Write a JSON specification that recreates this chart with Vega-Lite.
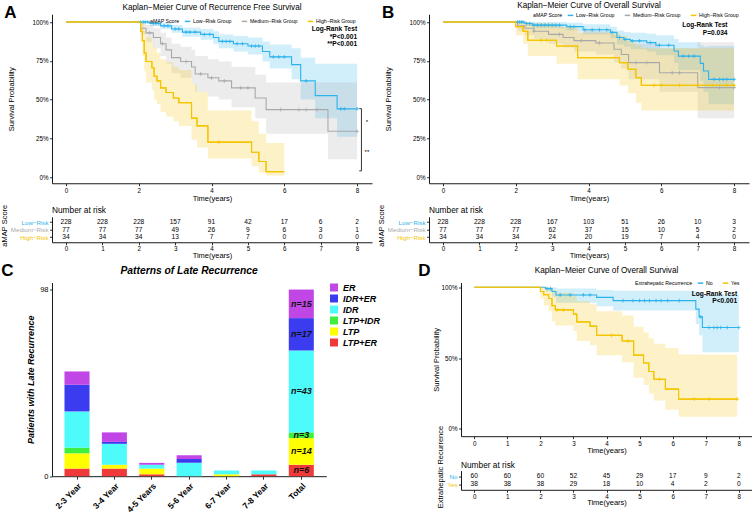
{
"$schema": "https://vega.github.io/schema/vega-lite/v6.json",
"padding": {"left": 0, "top": 0.25, "right": 0, "bottom": 0},
"config": {
 "font": "Liberation Sans",
 "view": {"stroke": null},
 "axis": {"grid": false, "domainColor": "#000", "domainWidth": 0.9, "tickColor": "#000", "tickWidth": 0.8, "tickSize": 2.5, "labelColor": "#000", "labelFontSize": 6.3, "titleFontSize": 7.5, "titleFontWeight": "normal", "titleColor": "#000", "labelPadding": 1.5, "titlePadding": 2, "labelFlush": false, "labelOverlap": false},
 "title": {"fontSize": 8.2, "fontWeight": "normal", "color": "#000", "offset": 2},
 "legend": {"labelFontSize": 5.2, "titleFontSize": 5.2, "titleFontWeight": "normal", "labelColor": "#000", "titleColor": "#000"}
},
"datasets": {
 "kmA": [
  {"g":"Low−Risk Group","t":0,"s":1,"lo":1,"hi":1},
  {"g":"Low−Risk Group","t":2.3,"s":0.99,"lo":0.975,"hi":1},
  {"g":"Low−Risk Group","t":2.6,"s":0.975,"lo":0.955,"hi":0.995},
  {"g":"Low−Risk Group","t":2.9,"s":0.955,"lo":0.93,"hi":0.98},
  {"g":"Low−Risk Group","t":3.2,"s":0.935,"lo":0.905,"hi":0.965},
  {"g":"Low−Risk Group","t":3.7,"s":0.92,"lo":0.885,"hi":0.955},
  {"g":"Low−Risk Group","t":4.05,"s":0.9,"lo":0.86,"hi":0.94},
  {"g":"Low−Risk Group","t":4.2,"s":0.875,"lo":0.83,"hi":0.92},
  {"g":"Low−Risk Group","t":4.6,"s":0.86,"lo":0.81,"hi":0.91},
  {"g":"Low−Risk Group","t":5.0,"s":0.845,"lo":0.79,"hi":0.9},
  {"g":"Low−Risk Group","t":5.4,"s":0.81,"lo":0.745,"hi":0.875},
  {"g":"Low−Risk Group","t":5.6,"s":0.775,"lo":0.7,"hi":0.855},
  {"g":"Low−Risk Group","t":6.2,"s":0.725,"lo":0.63,"hi":0.83},
  {"g":"Low−Risk Group","t":6.45,"s":0.62,"lo":0.5,"hi":0.77},
  {"g":"Low−Risk Group","t":6.85,"s":0.525,"lo":0.38,"hi":0.73},
  {"g":"Low−Risk Group","t":7.45,"s":0.44,"lo":0.26,"hi":0.73},
  {"g":"Low−Risk Group","t":8.0,"s":0.44,"lo":0.26,"hi":0.73},
  {"g":"Medium−Risk Group","t":0,"s":1,"lo":1,"hi":1},
  {"g":"Medium−Risk Group","t":2.05,"s":0.96,"lo":0.92,"hi":1},
  {"g":"Medium−Risk Group","t":2.2,"s":0.93,"lo":0.87,"hi":0.98},
  {"g":"Medium−Risk Group","t":2.4,"s":0.9,"lo":0.83,"hi":0.96},
  {"g":"Medium−Risk Group","t":2.6,"s":0.86,"lo":0.78,"hi":0.93},
  {"g":"Medium−Risk Group","t":2.75,"s":0.82,"lo":0.73,"hi":0.9},
  {"g":"Medium−Risk Group","t":2.9,"s":0.77,"lo":0.67,"hi":0.86},
  {"g":"Medium−Risk Group","t":3.15,"s":0.745,"lo":0.64,"hi":0.84},
  {"g":"Medium−Risk Group","t":3.45,"s":0.71,"lo":0.6,"hi":0.82},
  {"g":"Medium−Risk Group","t":3.55,"s":0.665,"lo":0.55,"hi":0.78},
  {"g":"Medium−Risk Group","t":3.9,"s":0.64,"lo":0.52,"hi":0.76},
  {"g":"Medium−Risk Group","t":4.2,"s":0.62,"lo":0.5,"hi":0.745},
  {"g":"Medium−Risk Group","t":4.55,"s":0.575,"lo":0.45,"hi":0.71},
  {"g":"Medium−Risk Group","t":5.2,"s":0.51,"lo":0.38,"hi":0.66},
  {"g":"Medium−Risk Group","t":5.5,"s":0.435,"lo":0.28,"hi":0.61},
  {"g":"Medium−Risk Group","t":7.2,"s":0.295,"lo":0.115,"hi":0.61},
  {"g":"Medium−Risk Group","t":8.0,"s":0.295,"lo":0.115,"hi":0.61},
  {"g":"High−Risk Group","t":0,"s":1,"lo":1,"hi":1},
  {"g":"High−Risk Group","t":2.05,"s":0.94,"lo":0.87,"hi":1},
  {"g":"High−Risk Group","t":2.1,"s":0.88,"lo":0.78,"hi":0.99},
  {"g":"High−Risk Group","t":2.15,"s":0.8,"lo":0.68,"hi":0.94},
  {"g":"High−Risk Group","t":2.2,"s":0.745,"lo":0.61,"hi":0.9},
  {"g":"High−Risk Group","t":2.36,"s":0.705,"lo":0.56,"hi":0.87},
  {"g":"High−Risk Group","t":2.42,"s":0.65,"lo":0.5,"hi":0.83},
  {"g":"High−Risk Group","t":2.5,"s":0.62,"lo":0.47,"hi":0.8},
  {"g":"High−Risk Group","t":2.6,"s":0.575,"lo":0.42,"hi":0.76},
  {"g":"High−Risk Group","t":2.75,"s":0.545,"lo":0.39,"hi":0.74},
  {"g":"High−Risk Group","t":2.95,"s":0.51,"lo":0.36,"hi":0.71},
  {"g":"High−Risk Group","t":3.1,"s":0.48,"lo":0.33,"hi":0.69},
  {"g":"High−Risk Group","t":3.45,"s":0.38,"lo":0.24,"hi":0.6},
  {"g":"High−Risk Group","t":3.6,"s":0.33,"lo":0.19,"hi":0.55},
  {"g":"High−Risk Group","t":3.9,"s":0.225,"lo":0.12,"hi":0.43},
  {"g":"High−Risk Group","t":5.1,"s":0.16,"lo":0.07,"hi":0.36},
  {"g":"High−Risk Group","t":5.3,"s":0.1,"lo":0.03,"hi":0.28},
  {"g":"High−Risk Group","t":5.5,"s":0.035,"lo":0.01,"hi":0.22},
  {"g":"High−Risk Group","t":6.0,"s":0.035,"lo":0.01,"hi":0.22}
 ],
 "censA": [
  {"g":"Low−Risk Group","t":2.05,"s":1},{"g":"Low−Risk Group","t":2.12,"s":1},{"g":"Low−Risk Group","t":2.18,"s":1},{"g":"Low−Risk Group","t":2.25,"s":1},
  {"g":"Low−Risk Group","t":2.4,"s":0.99},{"g":"Low−Risk Group","t":2.47,"s":0.99},{"g":"Low−Risk Group","t":2.55,"s":0.99},
  {"g":"Low−Risk Group","t":2.7,"s":0.975},{"g":"Low−Risk Group","t":2.8,"s":0.975},{"g":"Low−Risk Group","t":3.0,"s":0.955},{"g":"Low−Risk Group","t":3.1,"s":0.955},
  {"g":"Low−Risk Group","t":3.3,"s":0.935},{"g":"Low−Risk Group","t":3.4,"s":0.935},{"g":"Low−Risk Group","t":3.55,"s":0.935},{"g":"Low−Risk Group","t":3.8,"s":0.92},{"g":"Low−Risk Group","t":3.95,"s":0.92},
  {"g":"Low−Risk Group","t":4.3,"s":0.875},{"g":"Low−Risk Group","t":4.4,"s":0.875},{"g":"Low−Risk Group","t":4.5,"s":0.875},{"g":"Low−Risk Group","t":4.7,"s":0.86},{"g":"Low−Risk Group","t":4.85,"s":0.86},
  {"g":"Low−Risk Group","t":5.1,"s":0.845},{"g":"Low−Risk Group","t":5.2,"s":0.845},{"g":"Low−Risk Group","t":5.3,"s":0.845},{"g":"Low−Risk Group","t":5.7,"s":0.775},{"g":"Low−Risk Group","t":5.85,"s":0.775},{"g":"Low−Risk Group","t":6.0,"s":0.775},
  {"g":"Low−Risk Group","t":6.6,"s":0.62},{"g":"Low−Risk Group","t":7.55,"s":0.44},{"g":"Low−Risk Group","t":7.65,"s":0.44},{"g":"Low−Risk Group","t":8.0,"s":0.44},
  {"g":"Medium−Risk Group","t":2.3,"s":0.93},{"g":"Medium−Risk Group","t":2.65,"s":0.86},{"g":"Medium−Risk Group","t":3.3,"s":0.745},{"g":"Medium−Risk Group","t":3.7,"s":0.665},{"g":"Medium−Risk Group","t":4.0,"s":0.64},{"g":"Medium−Risk Group","t":4.35,"s":0.62},
  {"g":"Medium−Risk Group","t":4.8,"s":0.575},{"g":"Medium−Risk Group","t":5.0,"s":0.575},{"g":"Medium−Risk Group","t":5.9,"s":0.435},{"g":"Medium−Risk Group","t":6.4,"s":0.435},{"g":"Medium−Risk Group","t":6.6,"s":0.435},{"g":"Medium−Risk Group","t":6.9,"s":0.435},{"g":"Medium−Risk Group","t":8.0,"s":0.295},
  {"g":"High−Risk Group","t":4.2,"s":0.225}
 ],
 "riskA": [
  {"g":"Low−Risk","t":0,"n":228},{"g":"Low−Risk","t":1,"n":228},{"g":"Low−Risk","t":2,"n":228},{"g":"Low−Risk","t":3,"n":157},{"g":"Low−Risk","t":4,"n":91},{"g":"Low−Risk","t":5,"n":42},{"g":"Low−Risk","t":6,"n":17},{"g":"Low−Risk","t":7,"n":6},{"g":"Low−Risk","t":8,"n":2},
  {"g":"Medium−Risk","t":0,"n":77},{"g":"Medium−Risk","t":1,"n":77},{"g":"Medium−Risk","t":2,"n":77},{"g":"Medium−Risk","t":3,"n":49},{"g":"Medium−Risk","t":4,"n":26},{"g":"Medium−Risk","t":5,"n":9},{"g":"Medium−Risk","t":6,"n":6},{"g":"Medium−Risk","t":7,"n":3},{"g":"Medium−Risk","t":8,"n":1},
  {"g":"High−Risk","t":0,"n":34},{"g":"High−Risk","t":1,"n":34},{"g":"High−Risk","t":2,"n":34},{"g":"High−Risk","t":3,"n":13},{"g":"High−Risk","t":4,"n":7},{"g":"High−Risk","t":5,"n":7},{"g":"High−Risk","t":6,"n":0},{"g":"High−Risk","t":7,"n":0},{"g":"High−Risk","t":8,"n":0}
 ],
 "kmB": [
  {"g":"Low−Risk Group","t":0,"s":1,"lo":1,"hi":1},
  {"g":"Low−Risk Group","t":2.25,"s":0.99,"lo":0.975,"hi":1},
  {"g":"Low−Risk Group","t":2.45,"s":0.98,"lo":0.96,"hi":1},
  {"g":"Low−Risk Group","t":3.4,"s":0.97,"lo":0.945,"hi":0.995},
  {"g":"Low−Risk Group","t":3.85,"s":0.95,"lo":0.92,"hi":0.985},
  {"g":"Low−Risk Group","t":4.6,"s":0.933,"lo":0.895,"hi":0.97},
  {"g":"Low−Risk Group","t":4.78,"s":0.9,"lo":0.855,"hi":0.945},
  {"g":"Low−Risk Group","t":4.97,"s":0.888,"lo":0.84,"hi":0.935},
  {"g":"Low−Risk Group","t":5.15,"s":0.878,"lo":0.825,"hi":0.93},
  {"g":"Low−Risk Group","t":5.6,"s":0.867,"lo":0.81,"hi":0.925},
  {"g":"Low−Risk Group","t":5.85,"s":0.85,"lo":0.785,"hi":0.915},
  {"g":"Low−Risk Group","t":6.35,"s":0.813,"lo":0.735,"hi":0.89},
  {"g":"Low−Risk Group","t":6.47,"s":0.78,"lo":0.69,"hi":0.87},
  {"g":"Low−Risk Group","t":7.07,"s":0.733,"lo":0.62,"hi":0.85},
  {"g":"Low−Risk Group","t":7.16,"s":0.684,"lo":0.55,"hi":0.84},
  {"g":"Low−Risk Group","t":7.3,"s":0.63,"lo":0.47,"hi":0.845},
  {"g":"Low−Risk Group","t":8.0,"s":0.63,"lo":0.47,"hi":0.845},
  {"g":"Medium−Risk Group","t":0,"s":1,"lo":1,"hi":1},
  {"g":"Medium−Risk Group","t":2.05,"s":0.975,"lo":0.94,"hi":1},
  {"g":"Medium−Risk Group","t":2.25,"s":0.96,"lo":0.915,"hi":1},
  {"g":"Medium−Risk Group","t":2.5,"s":0.94,"lo":0.89,"hi":0.99},
  {"g":"Medium−Risk Group","t":2.9,"s":0.92,"lo":0.86,"hi":0.98},
  {"g":"Medium−Risk Group","t":3.3,"s":0.9,"lo":0.835,"hi":0.965},
  {"g":"Medium−Risk Group","t":3.6,"s":0.88,"lo":0.81,"hi":0.95},
  {"g":"Medium−Risk Group","t":4.2,"s":0.865,"lo":0.79,"hi":0.94},
  {"g":"Medium−Risk Group","t":4.7,"s":0.824,"lo":0.74,"hi":0.915},
  {"g":"Medium−Risk Group","t":4.9,"s":0.79,"lo":0.7,"hi":0.89},
  {"g":"Medium−Risk Group","t":5.1,"s":0.738,"lo":0.63,"hi":0.86},
  {"g":"Medium−Risk Group","t":5.95,"s":0.673,"lo":0.55,"hi":0.83},
  {"g":"Medium−Risk Group","t":7.0,"s":0.577,"lo":0.38,"hi":0.87},
  {"g":"Medium−Risk Group","t":8.0,"s":0.577,"lo":0.38,"hi":0.87},
  {"g":"High−Risk Group","t":0,"s":1,"lo":1,"hi":1},
  {"g":"High−Risk Group","t":2.0,"s":0.97,"lo":0.915,"hi":1},
  {"g":"High−Risk Group","t":2.2,"s":0.94,"lo":0.86,"hi":1},
  {"g":"High−Risk Group","t":2.33,"s":0.882,"lo":0.78,"hi":0.99},
  {"g":"High−Risk Group","t":3.12,"s":0.845,"lo":0.73,"hi":0.97},
  {"g":"High−Risk Group","t":3.7,"s":0.77,"lo":0.63,"hi":0.93},
  {"g":"High−Risk Group","t":4.85,"s":0.738,"lo":0.59,"hi":0.91},
  {"g":"High−Risk Group","t":5.08,"s":0.695,"lo":0.54,"hi":0.88},
  {"g":"High−Risk Group","t":5.3,"s":0.641,"lo":0.48,"hi":0.85},
  {"g":"High−Risk Group","t":5.45,"s":0.592,"lo":0.43,"hi":0.83},
  {"g":"High−Risk Group","t":8.0,"s":0.592,"lo":0.43,"hi":0.83}
 ],
 "censB": [
  {"g":"Low−Risk Group","t":2.05,"s":1},{"g":"Low−Risk Group","t":2.1,"s":1},{"g":"Low−Risk Group","t":2.15,"s":1},{"g":"Low−Risk Group","t":2.2,"s":1},{"g":"Low−Risk Group","t":2.3,"s":0.99},{"g":"Low−Risk Group","t":2.38,"s":0.99},
  {"g":"Low−Risk Group","t":2.5,"s":0.98},{"g":"Low−Risk Group","t":2.6,"s":0.98},{"g":"Low−Risk Group","t":2.7,"s":0.98},{"g":"Low−Risk Group","t":2.8,"s":0.98},{"g":"Low−Risk Group","t":2.9,"s":0.98},{"g":"Low−Risk Group","t":3.0,"s":0.98},{"g":"Low−Risk Group","t":3.1,"s":0.98},{"g":"Low−Risk Group","t":3.2,"s":0.98},
  {"g":"Low−Risk Group","t":3.5,"s":0.97},{"g":"Low−Risk Group","t":3.6,"s":0.97},{"g":"Low−Risk Group","t":3.9,"s":0.95},{"g":"Low−Risk Group","t":4.1,"s":0.95},{"g":"Low−Risk Group","t":4.3,"s":0.95},{"g":"Low−Risk Group","t":4.5,"s":0.95},{"g":"Low−Risk Group","t":4.65,"s":0.933},
  {"g":"Low−Risk Group","t":4.85,"s":0.9},{"g":"Low−Risk Group","t":5.0,"s":0.888},{"g":"Low−Risk Group","t":5.2,"s":0.878},{"g":"Low−Risk Group","t":5.4,"s":0.878},{"g":"Low−Risk Group","t":5.7,"s":0.867},{"g":"Low−Risk Group","t":5.95,"s":0.85},{"g":"Low−Risk Group","t":6.2,"s":0.85},
  {"g":"Low−Risk Group","t":6.6,"s":0.78},{"g":"Low−Risk Group","t":6.75,"s":0.78},{"g":"Low−Risk Group","t":6.9,"s":0.78},{"g":"Low−Risk Group","t":7.45,"s":0.63},{"g":"Low−Risk Group","t":7.6,"s":0.63},{"g":"Low−Risk Group","t":7.7,"s":0.63},{"g":"Low−Risk Group","t":7.8,"s":0.63},{"g":"Low−Risk Group","t":8.0,"s":0.63},
  {"g":"Medium−Risk Group","t":2.5,"s":0.94},{"g":"Medium−Risk Group","t":3.2,"s":0.92},{"g":"Medium−Risk Group","t":3.8,"s":0.88},{"g":"Medium−Risk Group","t":4.3,"s":0.865},{"g":"Medium−Risk Group","t":5.3,"s":0.738},{"g":"Medium−Risk Group","t":5.6,"s":0.738},{"g":"Medium−Risk Group","t":6.3,"s":0.673},{"g":"Medium−Risk Group","t":6.5,"s":0.673},{"g":"Medium−Risk Group","t":7.6,"s":0.577},{"g":"Medium−Risk Group","t":8.0,"s":0.577},
  {"g":"High−Risk Group","t":2.7,"s":0.882},{"g":"High−Risk Group","t":2.85,"s":0.882},{"g":"High−Risk Group","t":5.8,"s":0.592},{"g":"High−Risk Group","t":6.0,"s":0.592},{"g":"High−Risk Group","t":6.5,"s":0.592},{"g":"High−Risk Group","t":7.0,"s":0.592},{"g":"High−Risk Group","t":7.4,"s":0.592},{"g":"High−Risk Group","t":7.8,"s":0.592},{"g":"High−Risk Group","t":8.0,"s":0.592}
 ],
 "riskB": [
  {"g":"Low−Risk","t":0,"n":228},{"g":"Low−Risk","t":1,"n":228},{"g":"Low−Risk","t":2,"n":228},{"g":"Low−Risk","t":3,"n":167},{"g":"Low−Risk","t":4,"n":103},{"g":"Low−Risk","t":5,"n":51},{"g":"Low−Risk","t":6,"n":26},{"g":"Low−Risk","t":7,"n":10},{"g":"Low−Risk","t":8,"n":3},
  {"g":"Medium−Risk","t":0,"n":77},{"g":"Medium−Risk","t":1,"n":77},{"g":"Medium−Risk","t":2,"n":77},{"g":"Medium−Risk","t":3,"n":62},{"g":"Medium−Risk","t":4,"n":37},{"g":"Medium−Risk","t":5,"n":15},{"g":"Medium−Risk","t":6,"n":10},{"g":"Medium−Risk","t":7,"n":5},{"g":"Medium−Risk","t":8,"n":2},
  {"g":"High−Risk","t":0,"n":34},{"g":"High−Risk","t":1,"n":34},{"g":"High−Risk","t":2,"n":34},{"g":"High−Risk","t":3,"n":24},{"g":"High−Risk","t":4,"n":20},{"g":"High−Risk","t":5,"n":19},{"g":"High−Risk","t":6,"n":7},{"g":"High−Risk","t":7,"n":4},{"g":"High−Risk","t":8,"n":0}
 ],
 "kmD": [
  {"g":"No","t":0,"s":1,"lo":1,"hi":1},
  {"g":"No","t":2.15,"s":0.99,"lo":0.97,"hi":1},
  {"g":"No","t":2.35,"s":0.97,"lo":0.93,"hi":1},
  {"g":"No","t":2.47,"s":0.945,"lo":0.89,"hi":0.99},
  {"g":"No","t":3.7,"s":0.928,"lo":0.865,"hi":0.98},
  {"g":"No","t":4.2,"s":0.905,"lo":0.835,"hi":0.975},
  {"g":"No","t":6.7,"s":0.845,"lo":0.74,"hi":0.97},
  {"g":"No","t":6.8,"s":0.79,"lo":0.66,"hi":0.96},
  {"g":"No","t":6.9,"s":0.715,"lo":0.54,"hi":0.95},
  {"g":"No","t":8.0,"s":0.715,"lo":0.54,"hi":0.95},
  {"g":"Yes","t":0,"s":1,"lo":1,"hi":1},
  {"g":"Yes","t":2.0,"s":0.97,"lo":0.92,"hi":1},
  {"g":"Yes","t":2.1,"s":0.947,"lo":0.87,"hi":1},
  {"g":"Yes","t":2.25,"s":0.92,"lo":0.83,"hi":1},
  {"g":"Yes","t":2.35,"s":0.87,"lo":0.76,"hi":0.98},
  {"g":"Yes","t":2.45,"s":0.84,"lo":0.73,"hi":0.96},
  {"g":"Yes","t":3.0,"s":0.81,"lo":0.69,"hi":0.94},
  {"g":"Yes","t":3.1,"s":0.755,"lo":0.62,"hi":0.9},
  {"g":"Yes","t":3.5,"s":0.725,"lo":0.59,"hi":0.88},
  {"g":"Yes","t":3.7,"s":0.66,"lo":0.52,"hi":0.83},
  {"g":"Yes","t":4.47,"s":0.62,"lo":0.47,"hi":0.8},
  {"g":"Yes","t":4.82,"s":0.52,"lo":0.36,"hi":0.72},
  {"g":"Yes","t":5.12,"s":0.465,"lo":0.31,"hi":0.68},
  {"g":"Yes","t":5.28,"s":0.405,"lo":0.25,"hi":0.64},
  {"g":"Yes","t":5.43,"s":0.35,"lo":0.2,"hi":0.6},
  {"g":"Yes","t":5.78,"s":0.28,"lo":0.135,"hi":0.57},
  {"g":"Yes","t":6.18,"s":0.21,"lo":0.085,"hi":0.525},
  {"g":"Yes","t":7.95,"s":0.21,"lo":0.085,"hi":0.525}
 ],
 "censD": [
  {"g":"No","t":2.2,"s":0.99},{"g":"No","t":2.3,"s":0.99},{"g":"No","t":2.6,"s":0.945},{"g":"No","t":2.9,"s":0.945},{"g":"No","t":3.3,"s":0.945},{"g":"No","t":3.5,"s":0.945},
  {"g":"No","t":4.5,"s":0.905},{"g":"No","t":4.8,"s":0.905},{"g":"No","t":5.0,"s":0.905},{"g":"No","t":5.15,"s":0.905},{"g":"No","t":5.3,"s":0.905},{"g":"No","t":5.5,"s":0.905},{"g":"No","t":5.65,"s":0.905},{"g":"No","t":5.85,"s":0.905},{"g":"No","t":6.2,"s":0.905},
  {"g":"No","t":6.85,"s":0.79},{"g":"No","t":7.1,"s":0.715},{"g":"No","t":7.25,"s":0.715},{"g":"No","t":7.35,"s":0.715},{"g":"No","t":7.45,"s":0.715},{"g":"No","t":7.65,"s":0.715},{"g":"No","t":8.0,"s":0.715},
  {"g":"Yes","t":2.5,"s":0.84},{"g":"Yes","t":2.7,"s":0.84},{"g":"Yes","t":4.15,"s":0.66},{"g":"Yes","t":4.65,"s":0.62},{"g":"Yes","t":5.6,"s":0.35},{"g":"Yes","t":6.65,"s":0.21},{"g":"Yes","t":7.1,"s":0.21},{"g":"Yes","t":7.95,"s":0.21}
 ],
 "riskD": [
  {"g":"No","t":0,"n":60},{"g":"No","t":1,"n":60},{"g":"No","t":2,"n":60},{"g":"No","t":3,"n":52},{"g":"No","t":4,"n":45},{"g":"No","t":5,"n":29},{"g":"No","t":6,"n":17},{"g":"No","t":7,"n":9},{"g":"No","t":8,"n":2},
  {"g":"Yes","t":0,"n":38},{"g":"Yes","t":1,"n":38},{"g":"Yes","t":2,"n":38},{"g":"Yes","t":3,"n":29},{"g":"Yes","t":4,"n":18},{"g":"Yes","t":5,"n":10},{"g":"Yes","t":6,"n":4},{"g":"Yes","t":7,"n":2},{"g":"Yes","t":8,"n":0}
 ],
 "pat": [
  {"period":"2-3 Year","pattern":"LTP+ER","count":4,"rank":1},{"period":"2-3 Year","pattern":"LTP","count":8,"rank":2},{"period":"2-3 Year","pattern":"LTP+IDR","count":3,"rank":3},{"period":"2-3 Year","pattern":"IDR","count":19,"rank":4},{"period":"2-3 Year","pattern":"IDR+ER","count":14,"rank":5},{"period":"2-3 Year","pattern":"ER","count":7,"rank":6},
  {"period":"3-4 Year","pattern":"LTP+ER","count":4,"rank":1},{"period":"3-4 Year","pattern":"LTP","count":2,"rank":2},{"period":"3-4 Year","pattern":"IDR","count":11,"rank":4},{"period":"3-4 Year","pattern":"IDR+ER","count":1,"rank":5},{"period":"3-4 Year","pattern":"ER","count":5,"rank":6},
  {"period":"4-5 Years","pattern":"LTP+ER","count":1,"rank":1},{"period":"4-5 Years","pattern":"LTP","count":3,"rank":2},{"period":"4-5 Years","pattern":"IDR","count":2,"rank":4},{"period":"4-5 Years","pattern":"ER","count":1,"rank":6},
  {"period":"5-6 Year","pattern":"IDR","count":7,"rank":4},{"period":"5-6 Year","pattern":"IDR+ER","count":2,"rank":5},{"period":"5-6 Year","pattern":"ER","count":2,"rank":6},
  {"period":"6-7 Year","pattern":"LTP","count":1,"rank":2},{"period":"6-7 Year","pattern":"IDR","count":2,"rank":4},
  {"period":"7-8 Year","pattern":"LTP+ER","count":1,"rank":1},{"period":"7-8 Year","pattern":"IDR","count":2,"rank":4},
  {"period":"Total","pattern":"LTP+ER","count":6,"rank":1},{"period":"Total","pattern":"LTP","count":14,"rank":2},{"period":"Total","pattern":"LTP+IDR","count":3,"rank":3},{"period":"Total","pattern":"IDR","count":43,"rank":4},{"period":"Total","pattern":"IDR+ER","count":17,"rank":5},{"period":"Total","pattern":"ER","count":15,"rank":6}
 ]
},
"resolve": {"scale": {"color": "independent", "fill": "independent", "x": "independent", "y": "independent"}, "legend": {"color": "independent", "fill": "independent"}},
"concat": [
 {"resolve": {"scale": {"color": "independent", "fill": "independent", "x": "independent", "y": "independent"}, "legend": {"color": "independent", "fill": "independent"}},
  "concat": [
  {"resolve": {"scale": {"color": "independent", "fill": "independent", "x": "independent", "y": "independent"}, "legend": {"color": "independent", "fill": "independent"}},
   "bounds": "flush",
   "concat": [
   {"width": 320, "height": 169,
    "title": {"text": "Kaplan−Meier Curve of Recurrence Free Survival", "frame": "group", "offset": -9},
    "layer": [
     {"data": {"name": "kmA"}, "mark": {"type": "area", "interpolate": "step-after", "fillOpacity": 0.22},
      "encoding": {"x": {"field": "t", "type": "quantitative", "scale": {"domain": [-0.385, 8.41], "nice": false, "zero": false}, "axis": {"values": [0,1,2,3,4,5,6,7,8], "format": "d", "title": "Time(years)", "labelPadding": 1.5, "titlePadding": 0.5}},
       "y": {"field": "lo", "type": "quantitative", "scale": {"domain": [-0.04, 1.05], "nice": false, "zero": false}, "axis": {"values": [0,0.25,0.5,0.75,1], "format": ".0%", "title": "Survival Probability", "titlePadding": 16}},
       "y2": {"field": "hi"},
       "color": {"field": "g", "type": "nominal", "scale": {"domain": ["Low−Risk Group","Medium−Risk Group","High−Risk Group"], "range": ["#2DB3EB","#A9A9A9","#F4C400"]},
        "legend": {"orient": "none", "legendX": 98, "legendY": 3.5, "direction": "horizontal", "title": "aMAP Score", "titleOrient": "left", "symbolType": "stroke", "symbolStrokeWidth": 1.5, "symbolSize": 30, "columnPadding": 6, "titlePadding": 4, "labelOffset": 2}}}},
     {"data": {"name": "kmA"}, "mark": {"type": "line", "interpolate": "step-after", "strokeWidth": 1.1},
      "encoding": {"x": {"field": "t", "type": "quantitative"}, "y": {"field": "s", "type": "quantitative", "title": "Survival Probability"}, "color": {"field": "g", "type": "nominal"}}},
     {"data": {"name": "censA"}, "mark": {"type": "point", "shape": "M-1,0H1M0,-1V1", "filled": false, "size": 14, "strokeWidth": 0.8, "opacity": 1},
      "encoding": {"x": {"field": "t", "type": "quantitative"}, "y": {"field": "s", "type": "quantitative", "title": "Survival Probability"}, "color": {"field": "g", "type": "nominal"}}},
     {"data": {"name": "kmA"}, "transform": [{"filter": "datum.g === 'High−Risk Group'"}], "mark": {"type": "line", "interpolate": "step-after", "strokeWidth": 1.1, "color": "#F4C400"},
      "encoding": {"x": {"field": "t", "type": "quantitative"}, "y": {"field": "s", "type": "quantitative", "title": "Survival Probability"}}},
     {"data": {"values": [{}]}, "mark": {"type": "text", "text": ["Log-Rank Test", "*P<0.001", "**P<0.001"], "align": "right", "baseline": "top", "fontWeight": "bold", "fontSize": 6.6, "lineHeight": 7.5},
      "encoding": {"x": {"datum": 8.0}, "y": {"datum": 0.974}}},
     {"data": {"values": [{}]}, "mark": {"type": "rule", "color": "#000", "strokeWidth": 0.8}, "encoding": {"x": {"datum": 8.12}, "y": {"datum": 0.441}, "y2": {"datum": 0.04}}},
     {"data": {"values": [{}]}, "mark": {"type": "rule", "color": "#000", "strokeWidth": 0.8}, "encoding": {"x": {"datum": 8.06}, "x2": {"datum": 8.12}, "y": {"datum": 0.441}}},
     {"data": {"values": [{}]}, "mark": {"type": "rule", "color": "#000", "strokeWidth": 0.8}, "encoding": {"x": {"datum": 8.06}, "x2": {"datum": 8.12}, "y": {"datum": 0.04}}},
     {"data": {"values": [{}]}, "mark": {"type": "text", "text": "*", "fontSize": 6, "align": "center"}, "encoding": {"x": {"datum": 8.27}, "y": {"datum": 0.357}}},
     {"data": {"values": [{}]}, "mark": {"type": "text", "text": "**", "fontSize": 6, "align": "center"}, "encoding": {"x": {"datum": 8.27}, "y": {"datum": 0.164}}},
     {"data": {"values": [{}]}, "mark": {"type": "text", "text": "A", "fontSize": 17, "fontWeight": "bold", "align": "center", "baseline": "alphabetic"}, "encoding": {"x": {"datum": -1.53}, "y": {"datum": 1.028}}}
    ]},
   {"width": 320, "height": 25.5,
    "data": {"name": "riskA"},
    "title": {"text": "Number at risk", "anchor": "start", "frame": "group", "fontSize": 8.3, "offset": -10.5},
    "mark": {"type": "text", "fontSize": 6.6, "color": "#000"},
    "encoding": {
     "x": {"field": "t", "type": "quantitative", "scale": {"domain": [-0.385, 8.41], "nice": false, "zero": false}, "axis": {"values": [0,1,2,3,4,5,6,7,8], "format": "d", "title": "Time(years)", "labelPadding": 1, "titlePadding": -0.7}},
     "y": {"field": "g", "type": "nominal", "sort": ["Low−Risk","Medium−Risk","High−Risk"], "scale": {"type": "point", "padding": 0.7}, "axis": {"title": "aMAP Score", "titleY": 8.5, "labelFontSize": 6.2, "titlePadding": 2, "labelColor": {"expr": "datum.value === 'Low−Risk' ? '#2DB3EB' : (datum.value === 'Medium−Risk' ? '#A9A9A9' : '#F4C400')"}}},
     "text": {"field": "n", "type": "quantitative"}
    }}
  ], "columns": 1, "spacing": 33.5},
  {"resolve": {"scale": {"color": "independent", "fill": "independent", "x": "independent", "y": "independent"}, "legend": {"color": "independent", "fill": "independent"}},
   "bounds": "flush",
   "concat": [
   {"width": 320, "height": 169,
    "title": {"text": "Kaplan−Meier Curve of Overall Survival", "frame": "group", "offset": -6.25},
    "layer": [
     {"data": {"name": "kmB"}, "mark": {"type": "area", "interpolate": "step-after", "fillOpacity": 0.22},
      "encoding": {"x": {"field": "t", "type": "quantitative", "scale": {"domain": [-0.385, 8.41], "nice": false, "zero": false}, "axis": {"values": [0,1,2,3,4,5,6,7,8], "format": "d", "title": "Time(years)", "labelPadding": 1.5, "titlePadding": 0.5}},
       "y": {"field": "lo", "type": "quantitative", "scale": {"domain": [-0.04, 1.05], "nice": false, "zero": false}, "axis": {"values": [0,0.25,0.5,0.75,1], "format": ".0%", "title": "Survival Probability", "titlePadding": 16}},
       "y2": {"field": "hi"},
       "color": {"field": "g", "type": "nominal", "scale": {"domain": ["Low−Risk Group","Medium−Risk Group","High−Risk Group"], "range": ["#2DB3EB","#A9A9A9","#F4C400"]},
        "legend": {"orient": "none", "legendX": 104, "legendY": -2.5, "direction": "horizontal", "title": "aMAP Score", "titleOrient": "left", "symbolType": "stroke", "symbolStrokeWidth": 1.5, "symbolSize": 30, "columnPadding": 6, "titlePadding": 4, "labelOffset": 2}}}},
     {"data": {"name": "kmB"}, "mark": {"type": "line", "interpolate": "step-after", "strokeWidth": 1.1},
      "encoding": {"x": {"field": "t", "type": "quantitative"}, "y": {"field": "s", "type": "quantitative", "title": "Survival Probability"}, "color": {"field": "g", "type": "nominal"}}},
     {"data": {"name": "censB"}, "mark": {"type": "point", "shape": "M-1,0H1M0,-1V1", "filled": false, "size": 14, "strokeWidth": 0.8, "opacity": 1},
      "encoding": {"x": {"field": "t", "type": "quantitative"}, "y": {"field": "s", "type": "quantitative", "title": "Survival Probability"}, "color": {"field": "g", "type": "nominal"}}},
     {"data": {"name": "kmB"}, "transform": [{"filter": "datum.g === 'High−Risk Group'"}], "mark": {"type": "line", "interpolate": "step-after", "strokeWidth": 1.1, "color": "#F4C400"},
      "encoding": {"x": {"field": "t", "type": "quantitative"}, "y": {"field": "s", "type": "quantitative", "title": "Survival Probability"}}},
     {"data": {"values": [{}]}, "mark": {"type": "text", "text": ["Log-Rank Test", "P=0.034"], "align": "right", "baseline": "top", "fontWeight": "bold", "fontSize": 6.6, "lineHeight": 7.5},
      "encoding": {"x": {"datum": 7.82}, "y": {"datum": 1.0}}},
     {"data": {"values": [{}]}, "mark": {"type": "text", "text": "B", "fontSize": 17, "fontWeight": "bold", "align": "center", "baseline": "alphabetic"}, "encoding": {"x": {"datum": -1.51}, "y": {"datum": 1.028}}}
    ]},
   {"width": 320, "height": 25.5,
    "data": {"name": "riskB"},
    "title": {"text": "Number at risk", "anchor": "start", "frame": "group", "fontSize": 8.3, "offset": -10.5},
    "mark": {"type": "text", "fontSize": 6.6, "color": "#000"},
    "encoding": {
     "x": {"field": "t", "type": "quantitative", "scale": {"domain": [-0.385, 8.41], "nice": false, "zero": false}, "axis": {"values": [0,1,2,3,4,5,6,7,8], "format": "d", "title": "Time(years)", "labelPadding": 1, "titlePadding": -0.7}},
     "y": {"field": "g", "type": "nominal", "sort": ["Low−Risk","Medium−Risk","High−Risk"], "scale": {"type": "point", "padding": 0.7}, "axis": {"title": "aMAP Score", "titleY": 8.5, "labelFontSize": 6.2, "titlePadding": 2, "labelColor": {"expr": "datum.value === 'Low−Risk' ? '#2DB3EB' : (datum.value === 'Medium−Risk' ? '#A9A9A9' : '#F4C400')"}}},
     "text": {"field": "n", "type": "quantitative"}
    }}
  ], "columns": 1, "spacing": 33.5}
 ], "columns": 2, "spacing": 5, "align": "none"},
 {"resolve": {"scale": {"color": "independent", "fill": "independent", "x": "independent", "y": "independent"}, "legend": {"color": "independent", "fill": "independent"}},
  "concat": [
  {"width": 274.3, "height": 193.7,
   "title": {"text": "Patterns of Late Recurrence", "fontSize": 10.3, "fontWeight": "bold", "fontStyle": "italic", "frame": "group", "offset": -14.4},
   "data": {"name": "pat"},
   "transform": [
    {"stack": "count", "groupby": ["period"], "sort": [{"field": "rank", "order": "ascending"}], "as": ["y0", "y1"]},
    {"calculate": "(datum.y0 + datum.y1) / 2", "as": "ym"},
    {"calculate": "'n=' + datum.count", "as": "lab"}
   ],
   "encoding": {"x": {"field": "period", "type": "nominal", "sort": ["2-3 Year","3-4 Year","4-5 Years","5-6 Year","6-7 Year","7-8 Year","Total"], "scale": {"paddingInner": 0.33, "paddingOuter": 0.334}, "axis": {"title": null, "labelAngle": -45, "labelFontSize": 8.5, "labelFontWeight": "bold", "tickSize": 3, "labelPadding": 2}}},
   "layer": [
    {"mark": {"type": "bar"},
     "encoding": {"y": {"field": "y0", "type": "quantitative", "scale": {"domain": [0, 101.7], "nice": false, "zero": false}, "axis": {"values": [0, 98], "title": "Patients with Late Recurrence", "titleFontSize": 9, "titleFontWeight": "bold", "titleFontStyle": "italic", "labelFontSize": 7.5, "titlePadding": 4}},
      "y2": {"field": "y1"},
      "color": {"field": "pattern", "type": "nominal", "scale": {"domain": ["ER","IDR+ER","IDR","LTP+IDR","LTP","LTP+ER"], "range": ["#C146E6","#3B3BEF","#4DFBFB","#3FEF3F","#FFFF00","#F03A3A"]},
       "legend": {"title": null, "orient": "right", "offset": 2, "symbolType": "square", "symbolSize": 64, "labelFontSize": 9, "labelFontWeight": "bold", "labelFontStyle": "italic", "rowPadding": 1, "labelOffset": 4, "padding": 0}}}},
    {"transform": [{"filter": "datum.period === 'Total'"}], "mark": {"type": "text", "fontSize": 9, "fontWeight": "bold", "fontStyle": "italic", "color": "#111"},
     "encoding": {"y": {"field": "ym", "type": "quantitative"}, "text": {"field": "lab", "type": "nominal"}}},
    {"data": {"values": [{}]}, "mark": {"type": "text", "text": "C", "fontSize": 17, "fontWeight": "bold", "align": "center", "baseline": "alphabetic", "dx": -69.7},
     "encoding": {"x": {"datum": "2-3 Year"}, "y": {"datum": 105}}}
   ]},
  {"resolve": {"scale": {"color": "independent", "fill": "independent", "x": "independent", "y": "independent"}, "legend": {"color": "independent", "fill": "independent"}},
   "bounds": "flush",
   "concat": [
   {"width": 291, "height": 153.7,
    "title": {"text": "Kaplan−Meier Curve of Overall Survival", "frame": "group", "offset": -12.5},
    "encoding": {"x": {"field": "t", "type": "quantitative", "scale": {"domain": [-0.402, 8.40], "nice": false, "zero": false}, "axis": {"values": [0,1,2,3,4,5,6,7,8], "format": "d", "title": "Time(years)", "labelPadding": 2, "titlePadding": -0.5}}},
    "layer": [
     {"data": {"name": "kmD"}, "mark": {"type": "area", "interpolate": "step-after", "fillOpacity": 0.22},
      "encoding": {"y": {"field": "lo", "type": "quantitative", "scale": {"domain": [-0.052, 1.033], "nice": false, "zero": false}, "axis": {"values": [0,0.25,0.5,0.75,1], "format": ".0%", "title": "Survival Probability", "titlePadding": 0}},
       "y2": {"field": "hi"},
       "color": {"field": "g", "type": "nominal", "scale": {"domain": ["No","Yes"], "range": ["#2DB3EB","#F4C400"]},
        "legend": {"orient": "none", "legendX": 174, "legendY": -3, "direction": "horizontal", "title": "Extrahepatic Recurrence", "titleOrient": "left", "symbolType": "stroke", "symbolStrokeWidth": 1.5, "symbolSize": 30, "columnPadding": 6, "titlePadding": 4, "labelOffset": 2}}}},
     {"data": {"name": "kmD"}, "mark": {"type": "line", "interpolate": "step-after", "strokeWidth": 1.1},
      "encoding": {"y": {"field": "s", "type": "quantitative", "title": "Survival Probability"}, "color": {"field": "g", "type": "nominal"}}},
     {"data": {"name": "censD"}, "mark": {"type": "point", "shape": "M-1,0H1M0,-1V1", "filled": false, "size": 14, "strokeWidth": 0.8, "opacity": 1},
      "encoding": {"y": {"field": "s", "type": "quantitative", "title": "Survival Probability"}, "color": {"field": "g", "type": "nominal"}}},
     {"data": {"name": "kmD"}, "transform": [{"filter": "datum.g === 'Yes'"}], "mark": {"type": "line", "interpolate": "step-after", "strokeWidth": 1.1, "color": "#F4C400"},
      "encoding": {"y": {"field": "s", "type": "quantitative", "title": "Survival Probability"}}},
     {"data": {"name": "kmD"}, "transform": [{"filter": "datum.t === 0 && datum.g === 'No'"}], "mark": {"type": "text", "text": ["Log-Rank Test", "P<0.001"], "align": "right", "baseline": "top", "fontWeight": "bold", "fontSize": 6.6, "lineHeight": 6.6},
      "encoding": {"x": {"datum": 7.95}, "y": {"datum": 0.97}}},
     {"data": {"name": "kmD"}, "transform": [{"filter": "datum.t === 0 && datum.g === 'No'"}], "mark": {"type": "text", "text": "D", "fontSize": 17, "fontWeight": "bold", "align": "center", "baseline": "alphabetic"}, "encoding": {"x": {"datum": -1.507}, "y": {"datum": 1.076}}}
    ]},
   {"width": 291, "height": 19.2,
    "data": {"name": "riskD"},
    "title": {"text": "Number at risk", "anchor": "start", "frame": "group", "fontSize": 8.3, "offset": -44},
    "mark": {"type": "text", "fontSize": 6.6, "color": "#000"},
    "encoding": {
     "x": {"field": "t", "type": "quantitative", "scale": {"domain": [-0.402, 8.40], "nice": false, "zero": false}, "axis": {"values": [0,1,2,3,4,5,6,7,8], "format": "d", "title": "Time(years)", "labelPadding": 1, "titlePadding": -0.7}},
     "y": {"field": "g", "type": "nominal", "sort": ["No","Yes"], "scale": {"type": "point", "padding": 0.7}, "axis": {"title": "Extrahepatic Recurrence", "titleY": -4, "labelFontSize": 6.2, "titlePadding": 2.4, "labelColor": {"expr": "datum.value === 'No' ? '#2DB3EB' : '#F4C400'"}}},
     "text": {"field": "n", "type": "quantitative"}
    }}
  ], "columns": 1, "spacing": 34.1}
 ], "columns": 2, "spacing": 37, "align": "none"}
],
"columns": 1,
"spacing": 2.25,
"align": "none"
}
